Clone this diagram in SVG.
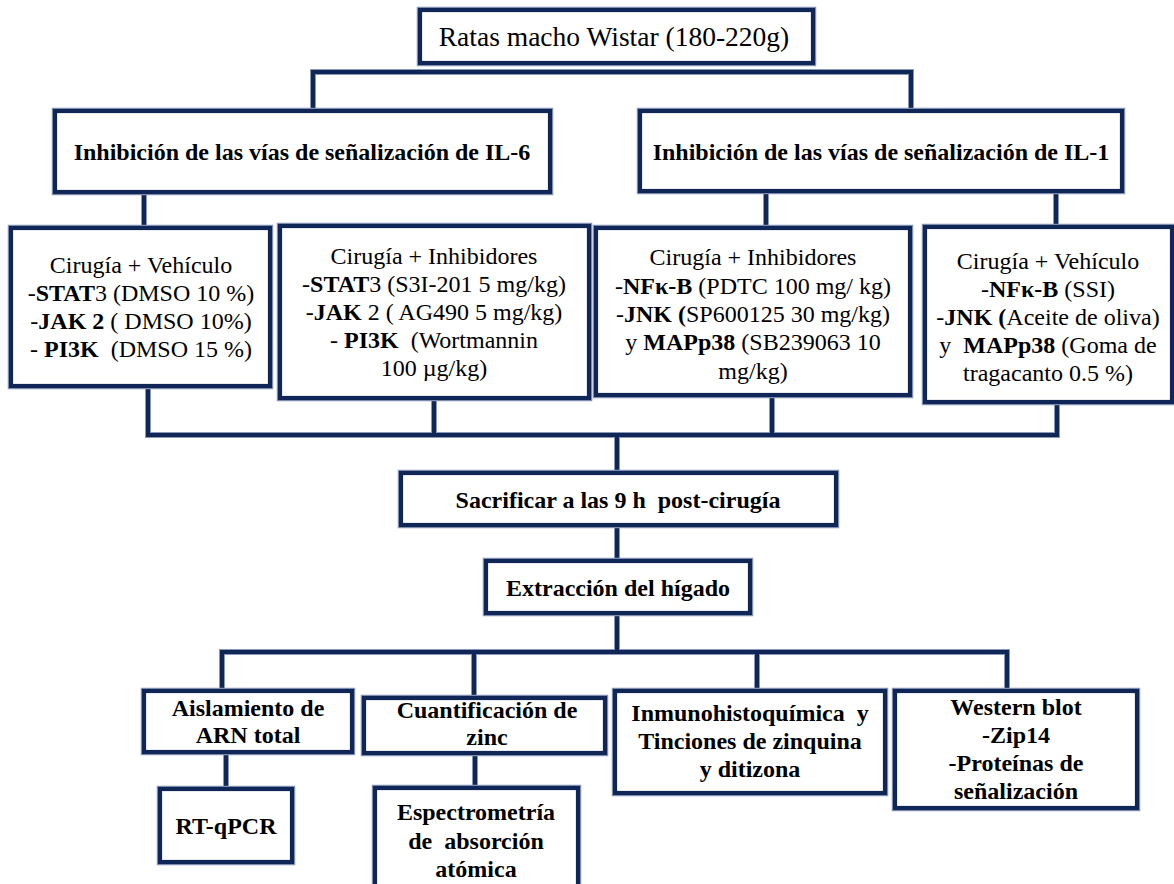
<svg xmlns="http://www.w3.org/2000/svg" width="1174" height="884" viewBox="0 0 1174 884">
<style>
.halo{fill:none;stroke:#8a98b8;stroke-width:6.5}
.box{fill:#ffffff;stroke:#0f2656;stroke-width:4.2}
.con{fill:none;stroke:#8a98b8;stroke-width:6}
.con2{fill:none;stroke:#0f2656;stroke-width:4}
text{font-family:"Liberation Serif","Times New Roman",Times,serif;fill:#000;text-anchor:middle}
.r{font-size:24px}
.b{font-size:24px;font-weight:bold}
.t{font-size:27.5px}
tspan.k{font-weight:bold}
</style>
<rect width="1174" height="884" fill="#ffffff"/>
<g id="connectors">
<path class="con" d="M313,111 V72 H911 V111 M144,192 V228 M766,191 V228 M1056,191 V227 M148,386 V435 H1057 V402 M434,398 V435 M772,395 V435 M617,435 V473 M617,525 V561 M617,613 V652 M222,691 V652 H1007 V691 M474,652 V698 M757,652 V691 M226,752 V789 M475,753 V788"/>
<path class="con2" d="M313,111 V72 H911 V111 M144,192 V228 M766,191 V228 M1056,191 V227 M148,386 V435 H1057 V402 M434,398 V435 M772,395 V435 M617,435 V473 M617,525 V561 M617,613 V652 M222,691 V652 H1007 V691 M474,652 V698 M757,652 V691 M226,752 V789 M475,753 V788"/>
</g>
<g id="n-ratas">
<rect class="halo" x="420" y="10" width="393" height="53"/><rect class="box" x="420" y="10" width="393" height="53"/>
<text class="t" x="614" y="46">Ratas macho Wistar (180-220g)</text>
</g>
<g id="n-il6">
<rect class="halo" x="55" y="111" width="495" height="81"/><rect class="box" x="55" y="111" width="495" height="81"/>
<text class="b" x="302" y="160">Inhibición de las vías de señalización de IL-6</text>
</g>
<g id="n-il1">
<rect class="halo" x="640" y="111" width="482" height="80"/><rect class="box" x="640" y="111" width="482" height="80"/>
<text class="b" x="881" y="160">Inhibición de las vías de señalización de IL-1</text>
</g>
<g id="n-veh6">
<rect class="halo" x="11" y="228" width="259" height="158"/><rect class="box" x="11" y="228" width="259" height="158"/>
<text class="r" x="141" y="273">Cirugía + Vehículo</text>
<text class="r" x="141" y="301">-<tspan class="k">STAT</tspan>3 (DMSO 10 %)</text>
<text class="r" x="141" y="329">-<tspan class="k">JAK 2</tspan> ( DMSO 10%)</text>
<text class="r" x="141" y="357" xml:space="preserve">- <tspan class="k">PI3K</tspan>  (DMSO 15 %)</text>
</g>
<g id="n-inh6">
<rect class="halo" x="280" y="226" width="309" height="172"/><rect class="box" x="280" y="226" width="309" height="172"/>
<text class="r" x="434" y="264">Cirugía + Inhibidores</text>
<text class="r" x="434" y="292">-<tspan class="k">STAT</tspan>3 (S3I-201 5 mg/kg)</text>
<text class="r" x="434" y="320">-<tspan class="k">JAK</tspan> 2 ( AG490 5 mg/kg)</text>
<text class="r" x="434" y="348" xml:space="preserve">- <tspan class="k">PI3K</tspan>  (Wortmannin</text>
<text class="r" x="434" y="376">100 µg/kg)</text>
</g>
<g id="n-inh1">
<rect class="halo" x="596" y="228" width="314" height="167"/><rect class="box" x="596" y="228" width="314" height="167"/>
<text class="r" x="753" y="265">Cirugía + Inhibidores</text>
<text class="r" x="753" y="294">-<tspan class="k">NFκ-B</tspan> (PDTC 100 mg/ kg)</text>
<text class="r" x="753" y="322">-<tspan class="k">JNK (</tspan>SP600125 30 mg/kg)</text>
<text class="r" x="753" y="350">y <tspan class="k">MAPp38</tspan> (SB239063 10</text>
<text class="r" x="753" y="379">mg/kg)</text>
</g>
<g id="n-veh1">
<rect class="halo" x="925" y="227" width="247" height="175"/><rect class="box" x="925" y="227" width="247" height="175"/>
<text class="r" x="1048" y="269">Cirugía + Vehículo</text>
<text class="r" x="1048" y="297">-<tspan class="k">NFκ-B</tspan> (SSI)</text>
<text class="r" x="1048" y="325">-<tspan class="k">JNK (</tspan>Aceite de oliva)</text>
<text class="r" x="1048" y="353" xml:space="preserve">y  <tspan class="k">MAPp38</tspan> (Goma de</text>
<text class="r" x="1048" y="381">tragacanto 0.5 %)</text>
</g>
<g id="n-sacrificar">
<rect class="halo" x="401" y="473" width="435" height="52"/><rect class="box" x="401" y="473" width="435" height="52"/>
<text class="b" x="618" y="508" xml:space="preserve">Sacrificar a las 9 h  post-cirugía</text>
</g>
<g id="n-extraccion">
<rect class="halo" x="486" y="561" width="264" height="52"/><rect class="box" x="486" y="561" width="264" height="52"/>
<text class="b" x="618" y="596">Extracción del hígado</text>
</g>
<g id="n-aislamiento">
<rect class="halo" x="144" y="691" width="208" height="61"/><rect class="box" x="144" y="691" width="208" height="61"/>
<text class="b" x="248" y="716">Aislamiento de</text>
<text class="b" x="248" y="743">ARN total</text>
</g>
<g id="n-cuantificacion">
<rect class="halo" x="364" y="698" width="241" height="55"/><rect class="box" x="364" y="698" width="241" height="55"/>
<text class="b" x="487" y="718">Cuantificación de</text>
<text class="b" x="487" y="745">zinc</text>
</g>
<g id="n-inmuno">
<rect class="halo" x="615" y="691" width="270" height="102"/><rect class="box" x="615" y="691" width="270" height="102"/>
<text class="b" x="750" y="721" xml:space="preserve">Inmunohistoquímica  y</text>
<text class="b" x="750" y="749">Tinciones de zinquina</text>
<text class="b" x="750" y="777">y ditizona</text>
</g>
<g id="n-western">
<rect class="halo" x="895" y="691" width="242" height="117"/><rect class="box" x="895" y="691" width="242" height="117"/>
<text class="b" x="1016" y="715">Western blot</text>
<text class="b" x="1016" y="743">-Zip14</text>
<text class="b" x="1016" y="771">-Proteínas de</text>
<text class="b" x="1016" y="799">señalización</text>
</g>
<g id="n-rtqpcr">
<rect class="halo" x="160" y="789" width="132" height="73"/><rect class="box" x="160" y="789" width="132" height="73"/>
<text class="b" x="226" y="834">RT-qPCR</text>
</g>
<g id="n-espectrometria">
<rect class="halo" x="375" y="788" width="203" height="110"/><rect class="box" x="375" y="788" width="203" height="110"/>
<text class="b" x="476" y="820">Espectrometría</text>
<text class="b" x="476" y="849" xml:space="preserve">de  absorción</text>
<text class="b" x="476" y="877">atómica</text>
</g>
</svg>
